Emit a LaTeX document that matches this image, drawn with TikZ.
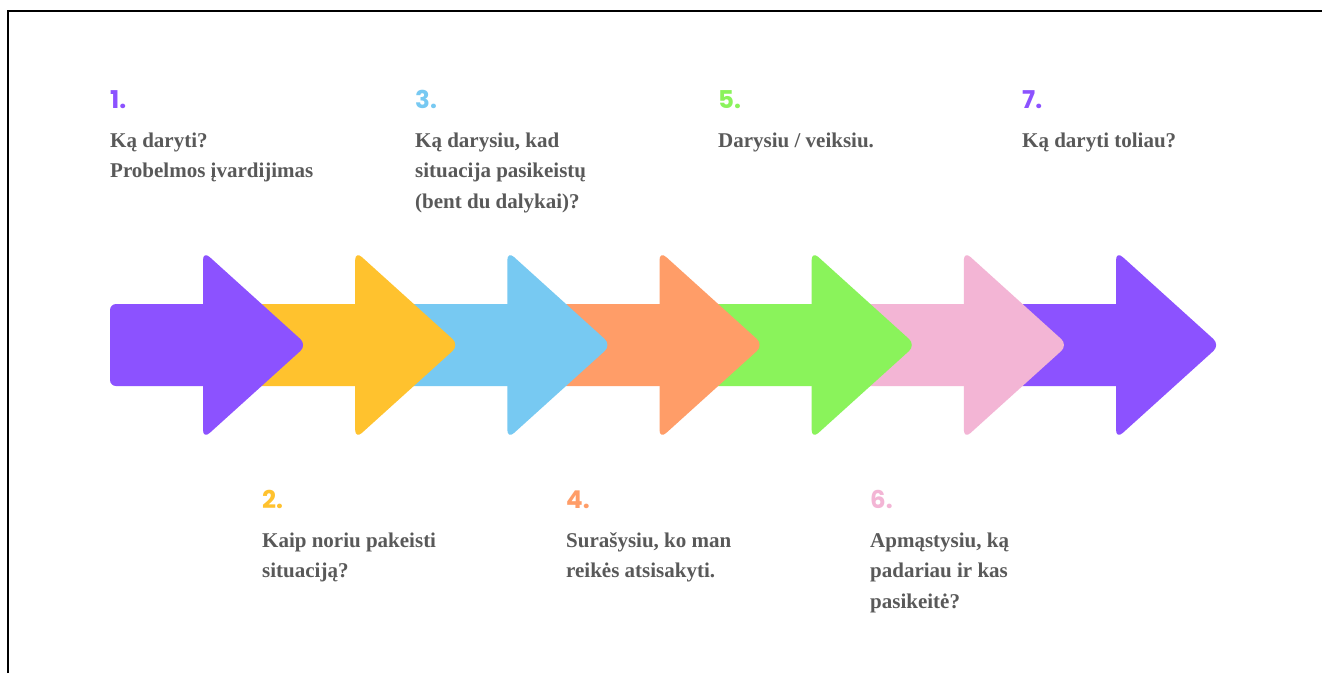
\documentclass[tikz,border=0pt]{standalone}
\usepackage{fontspec}
\setmainfont{Liberation Serif}
\newfontfamily\numfont{Poppins}
\definecolor{cpurple}{HTML}{8C52FF}
\definecolor{cyellow}{HTML}{FFC22E}
\definecolor{cblue}{HTML}{77C9F2}
\definecolor{corange}{HTML}{FF9D68}
\definecolor{cgreen}{HTML}{8AF35B}
\definecolor{cpink}{HTML}{F3B5D5}
\definecolor{ctext}{HTML}{595959}
\begin{document}
\begin{tikzpicture}[x=1pt,y=-1pt,
  numlbl/.style={anchor=base west, inner sep=0pt, font=\numfont\bfseries\fontsize{24.5}{24.5}\selectfont},
  desc/.style={anchor=base west, inner sep=0pt, align=left, text=ctext, font=\bfseries\fontsize{21}{30.5}\selectfont},
  shaftshape/.style={rounded corners=6pt},
  headshape/.style={rounded corners=9pt}]
\useasboundingbox (0,0) rectangle (1322,673);
\fill[white] (0,0) rectangle (1322,673);
\draw[line width=2pt] (8,673) -- (8,11) -- (1322,11);
\foreach \i/\c in {7/cpurple,6/cpink,5/cgreen,4/corange,3/cblue,2/cyellow,1/cpurple} {
  \pgfmathsetmacro\hb{203+152.17*(\i-1)}
  \pgfmathsetmacro\sx{ifthenelse(\i==1,110,\hb-142)}
  \fill[\c, shaftshape] (\sx,304) rectangle (\hb+20,386);
  \fill[\c, headshape] (\hb,251) -- (\hb+104,345) -- (\hb,439) -- cycle;
}
\node[numlbl,text=cpurple] (n1) at (110,108) {1.};
\node[desc] (t1) at (110,177.5) {Ką daryti?\\Probelmos įvardijimas};
\node[numlbl,text=cyellow] (n2) at (262,508) {2.};
\node[desc] (t2) at (262,577.5) {Kaip noriu pakeisti\\situaciją?};
\node[numlbl,text=cblue] (n3) at (415,108) {3.};
\node[desc] (t3) at (415,208) {Ką darysiu, kad\\situacija pasikeistų\\(bent du dalykai)?};
\node[numlbl,text=corange] (n4) at (566,508) {4.};
\node[desc] (t4) at (566,577.5) {Surašysiu, ko man\\reikės atsisakyti.};
\node[numlbl,text=cgreen] (n5) at (718,108) {5.};
\node[desc] (t5) at (718,147) {Darysiu / veiksiu.};
\node[numlbl,text=cpink] (n6) at (870,508) {6.};
\node[desc] (t6) at (870,608) {Apmąstysiu, ką\\padariau ir kas\\pasikeitė?};
\node[numlbl,text=cpurple] (n7) at (1022,108) {7.};
\node[desc] (t7) at (1022,147) {Ką daryti toliau?};
\end{tikzpicture}
\end{document}
